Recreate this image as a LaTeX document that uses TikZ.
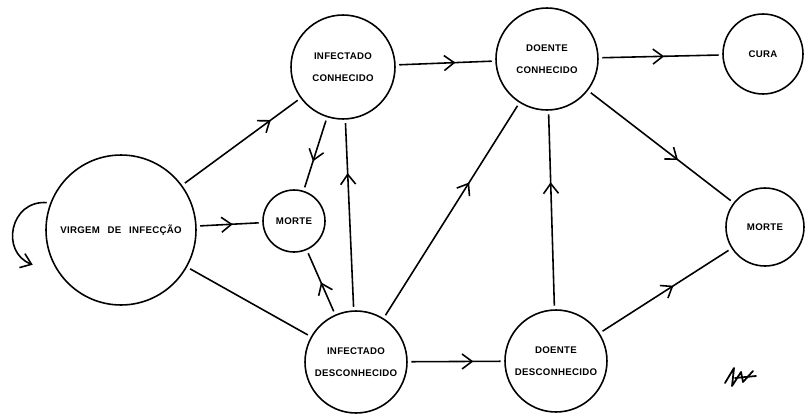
\documentclass[tikz,border=0pt]{standalone}
\usepackage{fontspec}
\newfontfamily\letreiro{Liberation Sans}[LetterSpace=3]
\usetikzlibrary{arrows.meta,decorations.markings}

\tikzset{
  estado/.style={draw, circle, line width=0.9pt, inner sep=0pt, minimum size=#1,
    align=center, font=\letreiro\bfseries\fontsize{5.5}{12.5}\selectfont},
  liga/.style={line width=0.9pt, shorten <=2pt, shorten >=2pt},
  fluxo/.style={liga, postaction={decorate},
    decoration={markings, mark=at position #1 with {\arrow{Straight Barb[length=2mm,width=3mm]}}}}
}

\begin{document}
\begin{tikzpicture}[x=0.02cm, y=-0.02cm]
  \useasboundingbox (0,0) rectangle (805,416);

  % estados
  \node[estado=3cm]    (virgem) at (121,230) {VIRGEM\hspace{0.8em}DE\hspace{0.8em}INFECÇÃO};
  \node[estado=2.08cm] (infcon) at (343,67)  {INFECTADO\\CONHECIDO};
  \node[estado=1.24cm] (morte)  at (294,221) {MORTE};
  \node[estado=2.04cm] (infdes) at (356,362) {INFECTADO\\DESCONHECIDO};
  \node[estado=2.04cm] (doecon) at (547,59)  {DOENTE\\CONHECIDO};
  \node[estado=2.04cm] (doedes) at (556,361) {DOENTE\\DESCONHECIDO};
  \node[estado=1.6cm]  (cura)   at (763,54)  {CURA};
  \node[estado=1.56cm] (obito)  at (765,227) {MORTE};

  % transicoes
  \draw[fluxo=0.75] (virgem) -- (infcon);
  \draw[fluxo=0.55] (virgem) -- (morte);
  \draw[liga]       (virgem) -- (infdes);
  \draw[fluxo=0.6]  (infcon) -- (morte);
  \draw[fluxo=0.5]  (infdes) -- (morte);
  \draw[fluxo=0.72] (infdes) -- (infcon);
  \draw[fluxo=0.6]  (infcon) -- (doecon);
  \draw[fluxo=0.63] (infdes) -- (doecon);
  \draw[fluxo=0.68] (infdes) -- (doedes);
  \draw[fluxo=0.64] (doedes) -- (doecon);
  \draw[fluxo=0.53] (doecon) -- (cura);
  \draw[fluxo=0.62] (doecon) -- (obito);
  \draw[fluxo=0.56] (doedes) -- (obito);

  % laco da virgem
  \coordinate (voltafim) at (36,266);
  \draw[liga, -{Straight Barb[length=2mm,width=3mm]}]
    (virgem.159) .. controls (10,200) and (0,252) .. (voltafim);

  % rubrica
  \draw[line width=1pt, line cap=round, line join=round]
    (725,383) -- (734,368) -- (732,386) -- (741,372) -- (743,382) -- (753,371);
  \draw[line width=1pt, line cap=round] (735,378) -- (756,376);
\end{tikzpicture}
\end{document}
